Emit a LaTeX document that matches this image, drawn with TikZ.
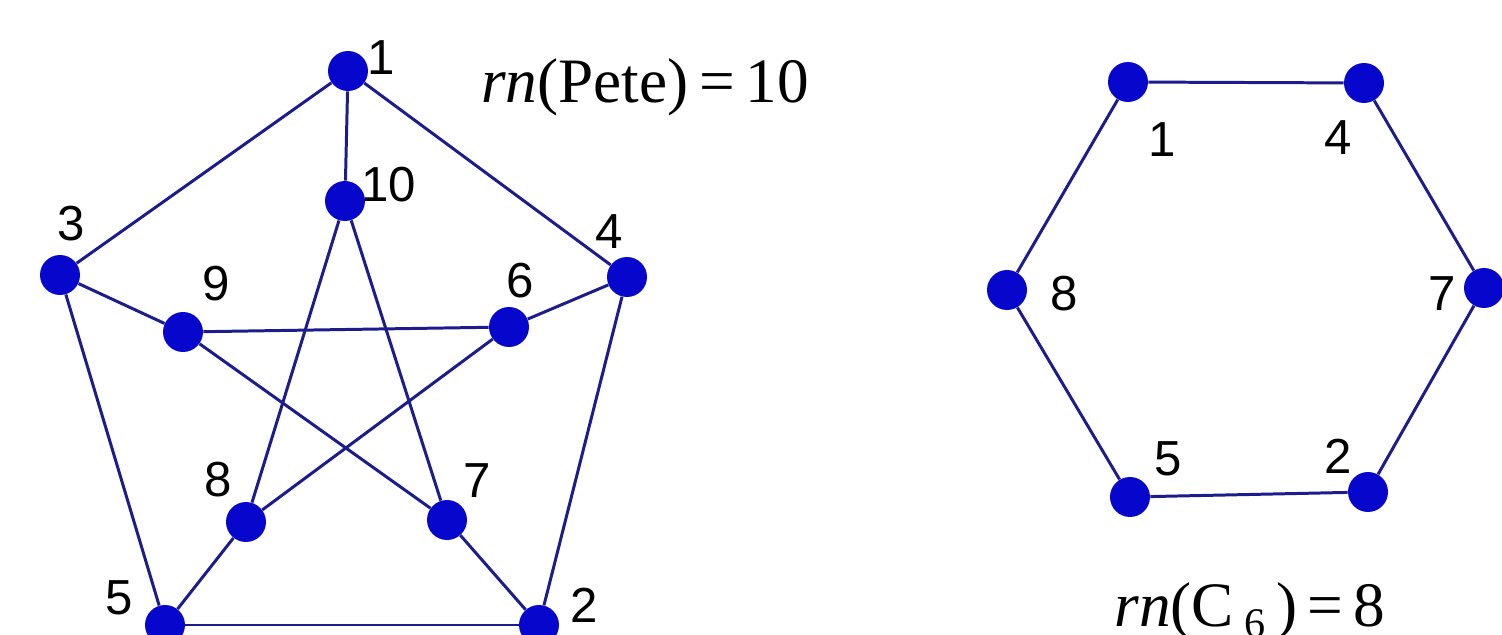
\documentclass[tikz,border=0pt]{standalone}
\usepackage{fontspec}
\setmainfont{Liberation Serif}
\newfontfamily\labfont{Liberation Sans}
\usetikzlibrary{positioning}
\definecolor{vertexBlue}{RGB}{6,6,205}
\definecolor{edgeBlue}{RGB}{28,28,140}

\begin{document}
\begin{tikzpicture}[x=0.02cm, y=-0.02cm,
  vertex/.style={circle, fill=vertexBlue, inner sep=0pt, minimum size=0.8cm},
  num/.style={font=\labfont\fontsize{28}{32}\selectfont, inner sep=0pt},
  formula/.style={font=\fontsize{36}{40}\selectfont, inner sep=0pt, anchor=base},
  edge/.style={edgeBlue, line width=1.7pt}]
  \useasboundingbox (0,0) rectangle (1502,635);

  % Petersen graph, outer and inner vertices
  \foreach \n/\x/\y in {1/348/71, 3/60/275, 4/627/277, 5/165/625, 2/539/625,
                        10/345/201, 9/183/332, 6/509/327, 8/246/522, 7/447/520} {
    \node[vertex] (p\n) at (\x,\y) {};
  }
  \foreach \n/\x/\y in {1/381/58, 10/389/185, 3/71/224, 4/609/232, 9/216/284,
                        6/520/281, 8/218/480, 7/477/481, 5/119/598, 2/584/605} {
    \node[num] (pl\n) at (\x,\y) {\n};
  }
  \foreach \a/\b in {1/10, 1/3, 1/4, 3/9, 3/5, 4/6, 4/2, 5/2, 5/8, 2/7,
                     10/8, 10/7, 9/6, 9/7, 6/8} {
    \draw[edge] (p\a) -- (p\b);
  }

  % hexagon C_6
  \foreach \n/\x/\y in {1/1128/82, 4/1364/83, 7/1484/288, 2/1368/492,
                        5/1130/497, 8/1007/290} {
    \node[vertex] (h\n) at (\x,\y) {};
  }
  \foreach \n/\x/\y in {1/1162/140, 4/1338/138, 8/1064/294, 7/1442/294,
                        5/1168/459, 2/1338/456} {
    \node[num] (hl\n) at (\x,\y) {\n};
  }
  \foreach \a/\b in {1/4, 4/7, 7/2, 2/5, 5/8, 8/1} {
    \draw[edge] (h\a) -- (h\b);
  }

  % radio numbers
  \node[formula] (petern) at (645,103) {\textit{rn}(Pete)\,=\,10};
  \node[formula] (cyclen) at (1250,626)
    {\textit{rn}(C\,\raisebox{-0.4ex}{\fontsize{24}{26}\selectfont 6}\,)\,=\,8};
\end{tikzpicture}
\end{document}
